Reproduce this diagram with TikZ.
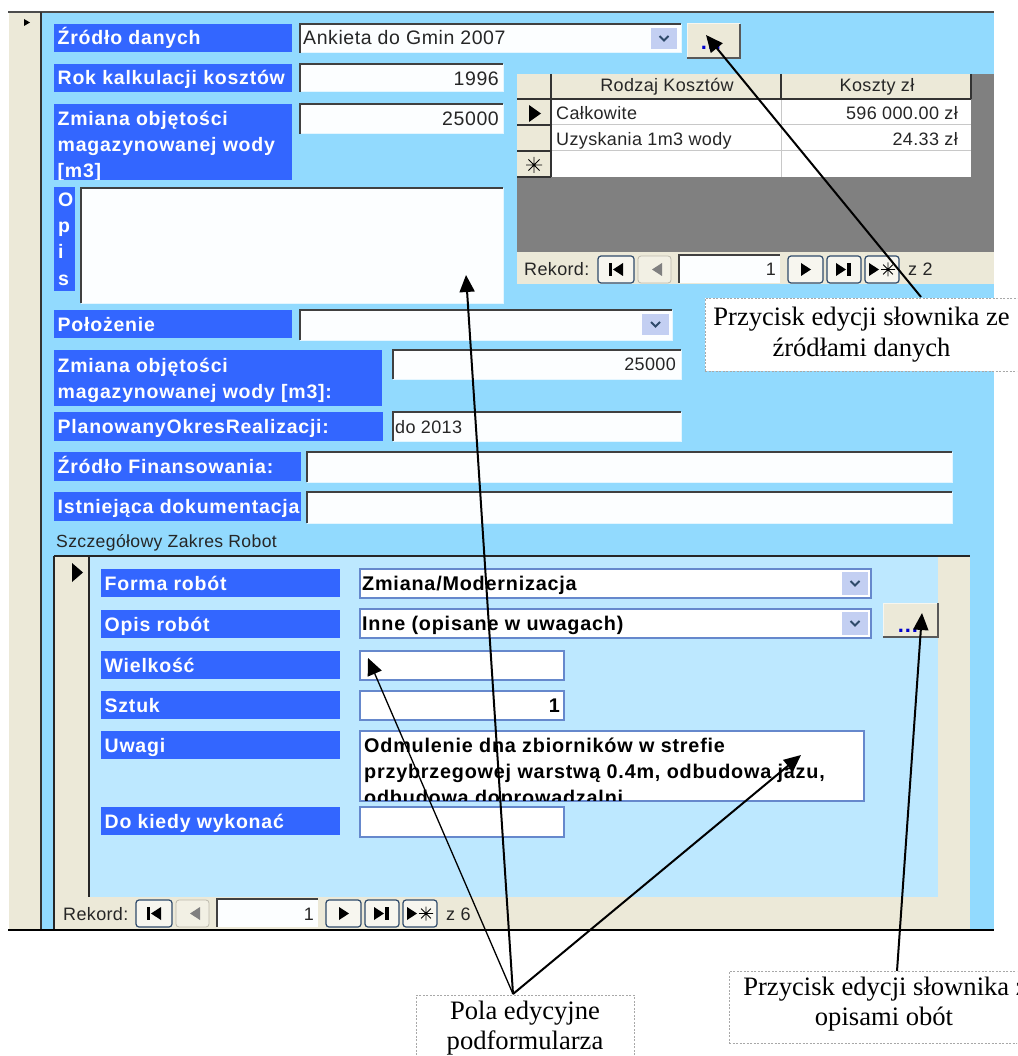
\documentclass[tikz,border=0pt]{standalone}
\usepackage{fontspec}
\usetikzlibrary{arrows.meta}
\newfontfamily\LabF[LetterSpace=4]{Liberation Sans}
\newfontfamily\SubF[LetterSpace=4]{Liberation Sans}
\newfontfamily\RegF[LetterSpace=3]{Liberation Sans}
\newfontfamily\TabF[LetterSpace=2]{Liberation Sans}
\newfontfamily\NoteF{Liberation Serif}
\definecolor{formblue}{HTML}{92DAFE}
\definecolor{subblue}{HTML}{BDE8FF}
\definecolor{labelblue}{HTML}{3366FF}
\definecolor{beige}{HTML}{ECE9D8}
\definecolor{gridgrey}{HTML}{C8C8C8}
\definecolor{darkgrey}{HTML}{808080}
\definecolor{edgeblue}{HTML}{6688CC}
\definecolor{navedge}{HTML}{2F4A6A}
\definecolor{dropblue}{HTML}{C3CFF2}
\definecolor{notegrey}{HTML}{A8A8A8}
\tikzset{
  labeltext/.style={text=white,inner sep=0pt,anchor=base west,align=left,font=\LabF\bfseries\fontsize{19.5}{26}\selectfont},
  labelfill/.style={fill=labelblue},
  regtext/.style={text=black!85,inner sep=0pt,font=\RegF\fontsize{19.5}{22}\selectfont},
  tabtext/.style={text=black!85,inner sep=0pt,font=\TabF\fontsize{18}{20}\selectfont},
  captiontext/.style={tabtext,font=\TabF\fontsize{17.6}{20}\selectfont},
  subtext/.style={text=black,inner sep=0pt,align=left,font=\SubF\bfseries\fontsize{19.8}{26}\selectfont},
  dots/.style={text=blue!80!black,inner sep=0pt,anchor=base,font=\LabF\bfseries\fontsize{22}{24}\selectfont},
  note/.style={draw=notegrey,dashed,line width=0.8pt,dash pattern=on 2pt off 1.5pt,fill=white,align=center,inner sep=0pt,
     font=\NoteF\fontsize{26.6}{30.5}\selectfont},
  pointer/.style={line width=2pt,-{Triangle[length=17pt,width=15pt]},black},
  thinpointer/.style={pointer,line width=1.3pt},
  navbutton/.style={draw=navedge,line width=1.2pt,fill=beige!40,rounded corners=3pt},
  mutedbutton/.style={draw=beige!80!black,line width=0.8pt,fill=beige!70,rounded corners=3pt},
  icon/.style={fill=black},
}
% label: x1 y1 x2 y2 name text
\newcommand{\LabelBox}[6]{%
  \fill[labelfill] (#1,#2) rectangle (#3,#4);
  \node[labeltext] (#5) at (#1+3.5,#2+21) {#6};}
% sunken field
\newcommand{\SunkField}[4]{%
  \fill[white!97!formblue] (#1,#2) rectangle (#3,#4);
  \draw[white!75!formblue,line width=1pt] (#1,#4) -- (#3,#4) -- (#3,#2);
  \draw[black!75,line width=1.3pt] (#1,#4) -- (#1,#2) -- (#3,#2);}
% flat subform field
\newcommand{\FlatField}[4]{%
  \draw[edgeblue,line width=1.2pt,fill=white] (#1,#2) rectangle (#3,#4);}
% drop down button x1 y1 x2 y2
\newcommand{\DropBtn}[4]{%
  \fill[dropblue] (#1,#2) rectangle (#3,#4);
  \draw[navedge,line width=1.8pt] ({(#1+#3)/2-4.5},{(#2+#4)/2-2.5}) -- ({(#1+#3)/2},{(#2+#4)/2+2}) -- ({(#1+#3)/2+4.5},{(#2+#4)/2-2.5});}
% raised button
\newcommand{\RaiseBtn}[4]{%
  \fill[beige] (#1,#2) rectangle (#3,#4);
  \draw[white!60!beige,line width=1pt] (#1,#4) -- (#1,#2) -- (#3,#2);
  \draw[black!65,line width=1.2pt] (#1,#4) -- (#3,#4) -- (#3,#2);}
% star x y r
\newcommand{\StarIcon}[3]{%
  \draw[black,line width=0.9pt] (#1-#3,#2) -- (#1+#3,#2) (#1,#2-#3) -- (#1,#2+#3) (#1-.7*#3,#2-.7*#3) -- (#1+.7*#3,#2+.7*#3) (#1+.7*#3,#2-.7*#3) -- (#1-.7*#3,#2+.7*#3);}
% triangles: tip right / tip left   x1 y1 x2 y2
\newcommand{\TriR}[4]{\fill[icon] (#1,#2) -- (#3,{(#2+#4)/2}) -- (#1,#4) -- cycle;}
\newcommand{\TriL}[4]{\fill[icon] (#3,#2) -- (#1,{(#2+#4)/2}) -- (#3,#4) -- cycle;}
% navigation bar: x of buttons start, top y
\newcommand{\NavBar}[2]{%
  \begin{scope}[shift={(#1,#2)}]
    \path[navbutton] (0,0) rectangle (36,27);
    \fill[icon] (11,7) rectangle (14,20); \TriL{15}{7}{25}{20}
    \path[mutedbutton] (40,0) rectangle (73,27);
    \fill[gray] (64,7) -- (54,13.5) -- (64,20) -- cycle;
    \fill[white!97!formblue] (81,-1) rectangle (182,27);
    \draw[black!75,line width=1.3pt] (81,27) -- (81,-1) -- (182,-1);
    \path[navbutton] (190,0) rectangle (225,27);
    \TriR{203}{7}{213}{20}
    \path[navbutton] (229,0) rectangle (263,27);
    \TriR{238}{7}{248}{20} \fill[icon] (249,7) rectangle (253,20);
    \path[navbutton] (267,0) rectangle (301,27);
    \TriR{271}{7}{281}{20} \StarIcon{290}{13.5}{7}
  \end{scope}}
\begin{document}
\begin{tikzpicture}[x=1pt,y=-1pt]
\useasboundingbox (0,0) rectangle (1017,1056);
\clip (0,0) rectangle (1017,1056);
\fill[white] (0,0) rectangle (1017,1056);
% main form
\fill[beige] (9,12) rectangle (41,930);
\fill[formblue] (41,12) rectangle (994,930);
\draw[black!70,line width=1.2pt] (8,12) -- (994,12);
\draw[black!80,line width=1.2pt] (41,12) -- (41,930);
\fill[black] (24,19) -- (30,22.5) -- (24,26) -- cycle;
% top rows
\LabelBox{54}{24}{292}{52}{lSource}{Źródło danych}
\SunkField{300}{24}{681}{53}
\node[regtext,anchor=base west] (vSource) at (303,45) {Ankieta do Gmin 2007};
\DropBtn{651}{28}{677}{49}
\RaiseBtn{687}{24}{740}{58}
\node[dots] (bSource) at (711,50) {...};
\LabelBox{54}{64}{292}{92}{lYear}{Rok kalkulacji kosztów}
\SunkField{300}{64}{503}{92}
\node[regtext,anchor=base east] (vYear) at (499,86) {1996};
\fill[labelfill] (54,104) rectangle (292,180);
\begin{scope}
  \clip (54,104) rectangle (292,180);
  \node[labeltext] (lVol) at (57.5,178) {Zmiana objętości\\magazynowanej wody\\{[m3]}};
\end{scope}
\SunkField{300}{104}{503}{134}
\node[regtext,anchor=base east] (vVol) at (499,126) {25000};
% Opis
\fill[labelfill] (54,187) rectangle (75,291);
\node[labeltext] (lOpis) at (58,285) {O\\p\\i\\s};
\SunkField{81}{188}{503}{303}
% cost table
\fill[darkgrey] (517,74) rectangle (994,252);
\fill[beige] (517,74) rectangle (971,99);
\fill[white] (551,99) rectangle (971,177);
\fill[beige] (517,99) rectangle (551,177);
\draw[gridgrey,line width=1pt] (551,125) -- (971,125) (551,151) -- (971,151) (781,99) -- (781,177);
\draw[black!80,line width=1.2pt] (551,74) -- (551,177) (517,99) -- (971,99) (781,74) -- (781,99) (971,74) -- (971,99) (517,125) -- (551,125) (517,151) -- (551,151) (517,177) -- (551,177);
\node[tabtext,anchor=base] (hType) at (667,92) {Rodzaj Kosztów};
\node[tabtext,anchor=base] (hCost) at (877,92) {Koszty zł};
\TriR{529}{105}{541}{122}
\node[tabtext,anchor=base west] (r1a) at (556,120) {Całkowite};
\node[tabtext,anchor=base east] (r1b) at (958,120) {596 000.00 zł};
\node[tabtext,anchor=base west] (r2a) at (556,146) {Uzyskania 1m3 wody};
\node[tabtext,anchor=base east] (r2b) at (958,146) {24.33 zł};
\StarIcon{534}{165}{8}
\fill[beige] (517,252) rectangle (994,284);
\node[tabtext,anchor=base west] (nav1) at (524,276) {Rekord:};
\NavBar{598}{256}
\node[tabtext,anchor=base east] (nav1n) at (776,276) {1};
\node[tabtext,anchor=base west] (nav1z) at (908,276) {z 2};
% middle rows
\LabelBox{54}{310}{292}{338}{lPos}{Położenie}
\SunkField{300}{310}{672}{340}
\DropBtn{642}{314}{669}{335}
\fill[labelfill] (54,350) rectangle (382,406);
\node[labeltext] (lVol2) at (57.5,398) {Zmiana objętości\\magazynowanej wody [m3]:};
\SunkField{393}{350}{681}{379}
\node[tabtext,anchor=base east] (vVol2) at (676,370) {25000};
\LabelBox{54}{412}{383}{441}{lPlan}{PlanowanyOkresRealizacji:}
\SunkField{393}{412}{681}{441}
\node[tabtext,anchor=base west] (vPlan) at (395,433) {do 2013};
\LabelBox{54}{452}{301}{481}{lFin}{Źródło Finansowania:}
\SunkField{307}{452}{952}{482}
\LabelBox{54}{492}{301}{521}{lDoc}{Istniejąca dokumentacja}
\SunkField{307}{492}{952}{523}
\node[captiontext,anchor=base west] (tScope) at (56,547) {Szczegółowy Zakres Robot};
% subform
\fill[beige] (54,556) rectangle (970,930);
\fill[subblue] (89,556) rectangle (938,897);
\draw[black!85,line width=1.2pt] (54,556) -- (970,556);
\draw[black!85,line width=1.2pt] (54,556) -- (54,930) (89,556) -- (89,897);
\fill[black] (72,563) -- (83,572.5) -- (72,582) -- cycle;
\LabelBox{101}{569}{340}{597}{lForm}{Forma robót}
\FlatField{360}{569}{871}{598}
\node[subtext,anchor=base west] (vForm) at (362,590) {Zmiana/Modernizacja};
\DropBtn{842}{572}{868}{595}
\LabelBox{101}{610}{340}{638}{lDesc}{Opis robót}
\FlatField{360}{609}{871}{638}
\node[subtext,anchor=base west] (vDesc) at (362,630) {Inne (opisane w uwagach)};
\DropBtn{842}{612}{868}{635}
\RaiseBtn{883}{603}{938}{637}
\node[dots] (bDesc) at (908,632) {...};
\LabelBox{101}{651}{340}{679}{lSize}{Wielkość}
\FlatField{360}{651}{564}{680}
\LabelBox{101}{691}{340}{719}{lPcs}{Sztuk}
\FlatField{360}{691}{564}{720}
\node[subtext,anchor=base east] (vPcs) at (560,712) {1};
\LabelBox{101}{731}{340}{759}{lRem}{Uwagi}
\FlatField{360}{731}{864}{801}
\begin{scope}
  \clip (360,731) rectangle (864,800);
  \node[subtext,anchor=base west] (vRem) at (364,804) {Odmulenie dna zbiorników w strefie\\przybrzegowej warstwą 0.4m, odbudowa jazu,\\odbudowa doprowadzalni};
\end{scope}
\LabelBox{101}{807}{340}{835}{lWhen}{Do kiedy wykonać}
\FlatField{360}{807}{564}{837}
\node[tabtext,anchor=base west] (nav2) at (63,920) {Rekord:};
\NavBar{136}{900}
\node[tabtext,anchor=base east] (nav2n) at (314,920) {1};
\node[tabtext,anchor=base west] (nav2z) at (446,920) {z 6};
\draw[black,line width=1.4pt] (8,930) -- (994,930);
% notes
\node[note,minimum width=313pt,minimum height=73pt] (noteSource) at (861.5,334.5) {Przycisk edycji słownika ze\\źródłami danych};
\node[note,minimum width=218pt,minimum height=66pt] (noteFields) at (525,1028) {Pola edycyjne\\podformularza};
\node[note,minimum width=310pt,minimum height=72pt,text depth=11pt] (noteDesc) at (884,1007) {\hspace*{3pt}Przycisk edycji słownika z\\opisami obót};
% pointers
\coordinate (fromSource) at (921,297);
\coordinate (toSource) at (706,35);
\coordinate (fromFields) at (513,994);
\coordinate (toOpis) at (466,275);
\coordinate (toSize) at (368,658);
\coordinate (toRem) at (801,755);
\coordinate (fromDesc) at (897,971);
\coordinate (toDesc) at (922,613);
\draw[pointer] (fromSource) -- (toSource);
\draw[pointer] (fromFields) -- (toOpis);
\draw[thinpointer] (fromFields) -- (toSize);
\draw[pointer] (fromFields) -- (toRem);
\draw[pointer] (fromDesc) -- (toDesc);
\end{tikzpicture}
\end{document}
